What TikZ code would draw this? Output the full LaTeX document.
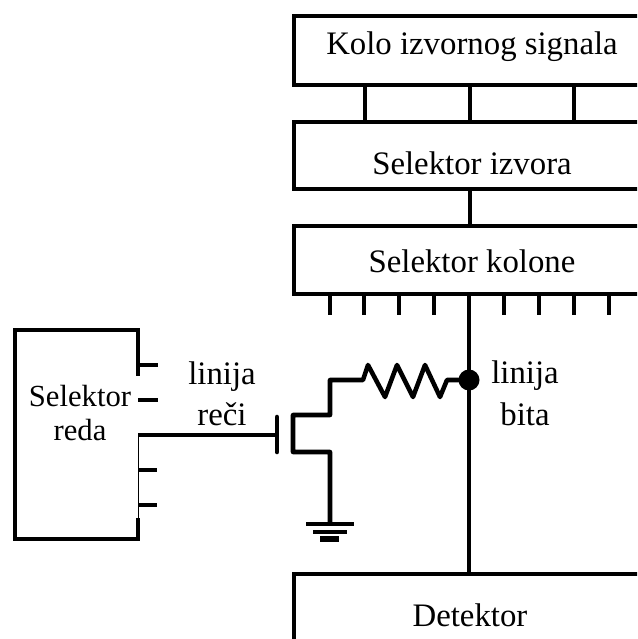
\documentclass[tikz,border=0pt]{standalone}
\usepackage{fontspec}
\setmainfont{Liberation Serif}
\tikzset{
  x=0.75pt,y=-0.75pt,
  wire/.style={line width=3.4pt,line join=miter,line cap=butt,black},
  thinwire/.style={line width=2.8pt,line join=round,line cap=round,black},
  block/.style={draw=black,line width=3.4pt,rectangle,inner sep=0pt,outer sep=0pt,fill=white},
  lbl/.style={inner sep=0pt,outer sep=0pt,align=center,font=\fontsize{24.6}{28}\selectfont,text=black},
}
\begin{document}
\begin{tikzpicture}
\useasboundingbox (0,0) rectangle (637,639);
\clip (0,0) rectangle (637,639);
% blocks
\node[block,minimum width=356*0.75pt,minimum height=69*0.75pt] (kolo) at (472,50.5) {};
\node[block,minimum width=356*0.75pt,minimum height=67*0.75pt] (izvor) at (472,155.5) {};
\node[block,minimum width=356*0.75pt,minimum height=68*0.75pt] (kolona) at (472,260) {};
\node[block,minimum width=356*0.75pt,minimum height=90*0.75pt] (det) at (472,619) {};
\node[block,minimum width=123*0.75pt,minimum height=209*0.75pt] (reda) at (76.5,434.5) {};
% text
\node[lbl] (tk) at (472,47) {Kolo izvornog signala};
\node[lbl] (ti) at (472,163) {Selektor izvora};
\node[lbl] (tc) at (472,261) {Selektor kolone};
\node[lbl] (td) at (470,615) {Detektor};
\node[lbl,font=\fontsize{23}{26}\selectfont] (t1) at (80,396) {Selektor};
\node[lbl,font=\fontsize{23}{26}\selectfont] (t2) at (80,430) {reda};
\node[lbl] (t3) at (222,377) {linija};
\node[lbl] (t4) at (222,414) {reči};
\node[lbl] (t5) at (525,376) {linija};
\node[lbl] (t6) at (525,414) {bita};
% named points
\foreach \n/\x in {a/365,b/470,c/574}{\coordinate (\n) at (\x,100);}
\foreach \x in {330,364,399,434,504,539,574,609}{
  \coordinate (tick) at (\x,315);
  \draw[thinwire,line cap=butt] (kolona.south -| tick) -- (tick);
}
\draw[wire] (kolo.south -| a) -- (izvor.north -| a);
\draw[wire] (kolo.south -| b) -- (izvor.north -| b);
\draw[wire] (kolo.south -| c) -- (izvor.north -| c);
\draw[wire] (izvor.south -| b) -- (kolona.north -| b);
% junction and bit line
\node[circle,fill=black,minimum size=21*0.75pt,inner sep=0pt,outer sep=0pt] (spoj) at (469,380) {};
\draw[wire] (kolona.south -| spoj) -- (det.north -| spoj);
% resistor & transistor
\coordinate (d1) at (330,380);
\coordinate (d2) at (330,415);
\coordinate (ch1) at (293,415);
\coordinate (ch2) at (293,452);
\coordinate (s1) at (330,452);
\coordinate (gnd) at (330,524);
\coordinate (gate) at (277,435);
\draw[wire,line join=round] (spoj.center) -- (447,380) -- (440,397) -- (425,365) -- (413,397) -- (397,365) -- (385,397) -- (368,365) -- (363,380) -- (d1) -- (d2) -- (ch1) -- (ch2) -- (s1) -- (gnd);
% row selector right side: erased part, then ticks and gate line
\fill[white] (136,376) rectangle (141,518);
\draw[line width=1.1pt,black] (138.5,435) -- (138.5,518);
\draw[wire,line cap=round] (277,417) -- (277,452);
\draw[wire] (reda.east |- gate) -- (gate);
\foreach \y/\xe in {365/158,400/158,470/157,505/157}{
  \coordinate (rt) at (\xe,\y);
  \draw[thinwire,line cap=butt] (reda.east |- rt) -- (rt);
}
% ground
\draw[wire] (306,524) -- (354,524);
\draw[wire] (313,532) -- (347,532);
\draw[wire,line width=3.8pt] (320,539) -- (339,539);
\end{tikzpicture}
\end{document}
